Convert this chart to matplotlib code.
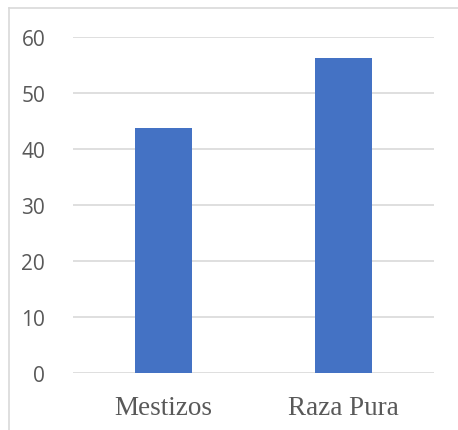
import matplotlib
matplotlib.use("Agg")
import matplotlib.pyplot as plt
from matplotlib.lines import Line2D

categories = ["Mestizos", "Raza Pura"]
values = [43.7, 56.2]
yticks = [0, 10, 20, 30, 40, 50, 60]

W, H = 458, 431
fig = plt.figure(figsize=(W/100, H/100), dpi=100)
ax = fig.add_axes([73/W, 1-374/H, (434-73)/W, (374-38)/H])

x = list(range(len(categories)))
ax.bar(x, values, width=0.316, color="#4472C4", zorder=3)
ax.set_xlim(-0.5, 1.5)
ax.set_ylim(0, 60)
ax.set_yticks(yticks)
ax.set_yticklabels([str(t) for t in yticks], fontsize=15, color="#595959",
                   family=["Open Sans", "DejaVu Sans"])
ax.set_xticks(x)
ax.set_xticklabels(categories, fontsize=19.5, color="#595959",
                   family=["Liberation Serif"])
ax.tick_params(axis="y", length=0, pad=20)
ax.tick_params(axis="x", length=0, pad=16)
ax.grid(axis="y", color="#D9D9D9", linewidth=1.2, zorder=0)
for s in ax.spines.values():
    s.set_visible(False)

# chart border (top and left visible)
fig.add_artist(Line2D([9/W, 9/W], [0, 1-9/H], color="#D9D9D9", linewidth=1.2, transform=fig.transFigure))
fig.add_artist(Line2D([9/W, 1], [1-9/H, 1-9/H], color="#D9D9D9", linewidth=1.2, transform=fig.transFigure))

fig.savefig("out.png", dpi=100)
